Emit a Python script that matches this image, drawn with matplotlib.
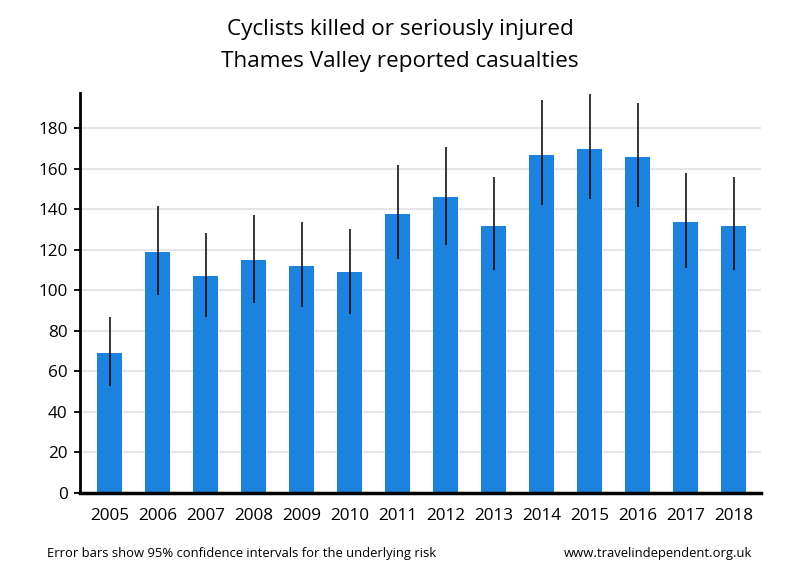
import matplotlib
matplotlib.use("Agg")
import matplotlib.pyplot as plt
import numpy as np

years = ["2005", "2006", "2007", "2008", "2009", "2010", "2011",
         "2012", "2013", "2014", "2015", "2016", "2017", "2018"]
casualties = [69, 119, 107, 115, 112, 109, 138, 146, 132, 167, 170, 166, 134, 132]
ci_low = [53, 98, 87, 94, 92, 88.5, 115.5, 122.5, 110, 142, 145, 141, 111, 110]
ci_high = [87, 141.5, 128.5, 137.5, 134, 130.5, 162, 171, 156, 194, 197, 192.5, 158, 156]
yticks = [0, 20, 40, 60, 80, 100, 120, 140, 160, 180]

plt.rcParams['font.family'] = ['Open Sans', 'DejaVu Sans']

fig = plt.figure(figsize=(8, 5.8), dpi=100)
ax = fig.add_axes([80/800, 87/580, 681/800, 400/580])

x = np.arange(len(years))
ax.bar(x, casualties, width=0.52, color="#1b82e0", zorder=2)
vals = np.array(casualties, dtype=float)
yerr = np.array([vals - np.array(ci_low), np.array(ci_high) - vals])
ax.errorbar(x, vals, yerr=yerr, fmt="none", ecolor="black", elinewidth=1.1, capsize=0, zorder=3)

ax.set_xlim(-0.615, 13.57)
ax.set_ylim(0, 197.5)
ax.set_yticks(yticks)
ax.set_yticklabels([str(t) for t in yticks], fontsize=12.3)
ax.set_xticks(x)
ax.set_xticklabels(years, fontsize=12.3)
ax.tick_params(axis="x", length=0, pad=11)
ax.tick_params(axis="y", length=4.5, width=1.3, pad=4.5)
ax.yaxis.grid(True, color="#e6e6e6", linewidth=1.5, zorder=0)
ax.set_axisbelow(True)
for s in ["top", "right"]:
    ax.spines[s].set_visible(False)
ax.spines["left"].set_linewidth(2)
ax.spines["bottom"].set_linewidth(2.5)

fig.text(0.5, 1 - 29/580, "Cyclists killed or seriously injured", ha="center", va="center", fontsize=16.2)
fig.text(0.5, 1 - 62/580, "Thames Valley reported casualties", ha="center", va="center", fontsize=16.2)
fig.text(47/800, 1 - 553/580, "Error bars show 95% confidence intervals for the underlying risk", ha="left", va="center", fontsize=9.4)
fig.text(752/800, 1 - 553/580, "www.travelindependent.org.uk", ha="right", va="center", fontsize=9.4)

fig.savefig("out.png", dpi=100)
